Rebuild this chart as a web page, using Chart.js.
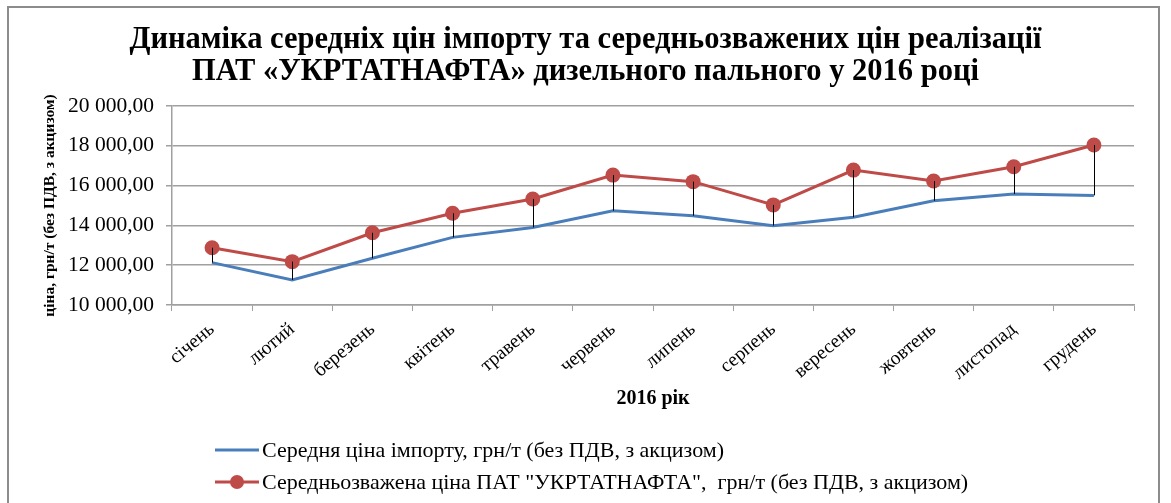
<!DOCTYPE html>
<html>
<head>
<meta charset="utf-8">
<script src="https://cdn.jsdelivr.net/npm/chart.js@4"></script>
<style>
    html, body { margin: 0; padding: 0; background: #fff; }
    #wrap { position: relative; width: 1171px; height: 503px; }
    #frame {
        position: absolute; left: 7px; top: 6px; width: 1153px; height: 520px;
        border: 2px solid #8c8c8c; box-sizing: border-box; pointer-events: none;
    }
</style>
</head>
<body>
<div id="wrap">
    <canvas id="priceChart" width="1171" height="503"></canvas>
    <div id="frame"></div>
</div>
<script>
// Chart data
const months = ['січень', 'лютий', 'березень', 'квітень', 'травень', 'червень',
    'липень', 'серпень', 'вересень', 'жовтень', 'листопад', 'грудень'];
const importPrice = [12130, 11260, 12350, 13400, 13900, 14740, 14490, 13990, 14410, 15240, 15580, 15510];
const ukrtatnaftaPrice = [12880, 12180, 13630, 14610, 15330, 16530, 16200, 15030, 16780, 16230, 16950, 18040];
const yMin = 10000;
const yMax = 20000;
const yStep = 2000;

const chartTitle = ['Динаміка середніх цін імпорту та середньозважених цін реалізації',
    'ПАТ «УКРТАТНАФТА» дизельного пального у 2016 році'];
const xTitle = '2016 рік';
const yTitle = 'ціна, грн/т (без ПДВ, з акцизом)';
const importLabel = 'Середня ціна імпорту, грн/т (без ПДВ, з акцизом)';
const ukrLabel = 'Середньозважена ціна ПАТ "УКРТАТНАФТА",  грн/т (без ПДВ, з акцизом)';

const BLUE = '#4a7ebb';
const RED = '#be4b48';
const GRID = '#a0a0a0';
const FONT = '"Liberation Serif", "Times New Roman", serif';

// "20 000,00"
function formatPrice(value) {
    const whole = Math.round(value);
    const thousands = Math.floor(whole / 1000);
    const rest = String(whole % 1000).padStart(3, '0');
    return thousands + ' ' + rest + ',00';
}

// Center the title on the whole canvas, not only the padded box
const titleCenter = {
    id: 'titleCenter',
    afterLayout(chart) {
        if (chart.titleBlock) {
            chart.titleBlock.left = 0;
            chart.titleBlock.right = chart.width;
        }
    }
};

// Black high-low lines between the two series
const dropLines = {
    id: 'dropLines',
    afterDatasetsDraw(chart) {
        const ctx = chart.ctx;
        const x = chart.scales.x;
        const y = chart.scales.y;
        ctx.save();
        ctx.strokeStyle = '#000';
        ctx.lineWidth = 1;
        months.forEach((m, i) => {
            const px = Math.round(x.getPixelForValue(i)) + 0.5;
            ctx.beginPath();
            ctx.moveTo(px, y.getPixelForValue(ukrtatnaftaPrice[i]));
            ctx.lineTo(px, y.getPixelForValue(importPrice[i]));
            ctx.stroke();
        });
        ctx.restore();
    }
};

// Legend stacked under the chart, left aligned
const stackedLegend = {
    id: 'stackedLegend',
    afterDraw(chart) {
        const ctx = chart.ctx;
        const left = chart.chartArea.left + 43;
        const rowY = [450, 482];
        ctx.save();
        ctx.font = '22px ' + FONT;
        ctx.textBaseline = 'middle';
        chart.data.datasets.forEach((ds, i) => {
            const cy = rowY[i];
            ctx.strokeStyle = ds.borderColor;
            ctx.lineWidth = 3;
            ctx.beginPath();
            ctx.moveTo(left, cy);
            ctx.lineTo(left + 44, cy);
            ctx.stroke();
            if (ds.pointRadius > 0) {
                ctx.fillStyle = ds.pointBackgroundColor;
                ctx.beginPath();
                ctx.arc(left + 22, cy, 7, 0, Math.PI * 2);
                ctx.fill();
            }
            ctx.fillStyle = '#000';
            ctx.fillText(ds.label, left + 47, cy + 1);
        });
        ctx.restore();
    }
};

const priceChart = new Chart(document.getElementById('priceChart'), {
    type: 'line',
    data: {
        labels: months,
        datasets: [{
            label: importLabel,
            data: importPrice,
            borderColor: BLUE,
            borderWidth: 3,
            pointRadius: 0,
            pointHoverRadius: 0,
            tension: 0
        }, {
            label: ukrLabel,
            data: ukrtatnaftaPrice,
            borderColor: RED,
            borderWidth: 3,
            pointRadius: 7.5,
            pointBackgroundColor: RED,
            pointBorderColor: RED,
            pointBorderWidth: 0,
            tension: 0
        }]
    },
    options: {
        responsive: false,
        animation: false,
        layout: {
            padding: { left: 10, right: 37, top: 0, bottom: 88 }
        },
        plugins: {
            legend: { display: false },
            tooltip: { enabled: false },
            title: {
                display: true,
                text: chartTitle,
                color: '#000',
                font: { family: FONT, size: 30.5, weight: 'bold', lineHeight: 1.05 },
                padding: { top: 24, bottom: 18 }
            }
        },
        scales: {
            x: {
                offset: true,
                afterFit: scale => { scale.height = 110; },
                border: { display: true, color: GRID, width: 1.5 },
                grid: {
                    display: true,
                    offset: true,
                    drawOnChartArea: false,
                    drawTicks: true,
                    tickLength: 6,
                    color: GRID
                },
                ticks: {
                    color: '#000',
                    font: { family: FONT, size: 19.5 },
                    minRotation: 40,
                    maxRotation: 40,
                    autoSkip: false,
                    padding: 7
                },
                title: {
                    display: true,
                    text: xTitle,
                    color: '#000',
                    font: { family: FONT, size: 20, weight: 'bold' },
                    padding: { top: 0, bottom: 4 }
                }
            },
            y: {
                min: yMin,
                max: yMax,
                afterFit: scale => { scale.width = 162; },
                border: { display: true, color: GRID, width: 1.5 },
                grid: {
                    color: GRID,
                    lineWidth: 1.5,
                    drawTicks: true,
                    tickLength: 6
                },
                ticks: {
                    stepSize: yStep,
                    color: '#000',
                    font: { family: FONT, size: 21.5 },
                    padding: 12,
                    callback: v => formatPrice(v)
                },
                title: {
                    display: true,
                    text: yTitle,
                    color: '#000',
                    font: { family: FONT, size: 15.5, weight: 'bold' },
                    padding: { top: 31, bottom: 0 }
                }
            }
        }
    },
    plugins: [titleCenter, dropLines, stackedLegend]
});
</script>
</body>
</html>
